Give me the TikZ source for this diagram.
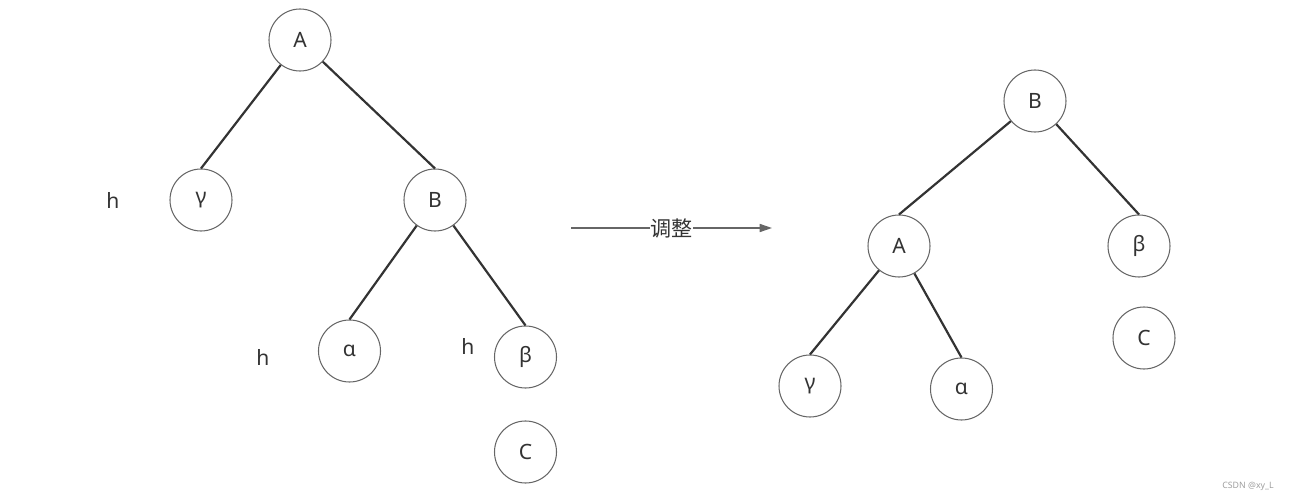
\documentclass[tikz,border=0pt]{standalone}
\usepackage{fontspec}
\setmainfont{Noto Sans}
\newfontfamily\cjk{Noto Sans CJK SC}
\usepackage{tikz}
\usetikzlibrary{arrows.meta}
\definecolor{ink}{HTML}{333333}
\definecolor{rim}{HTML}{666666}

\begin{document}
\begin{tikzpicture}[
  font=\large,
  nd/.style={draw=rim, circle, minimum size=1.24cm, inner sep=0pt, line width=0.6pt, text=ink, fill=white},
  edge/.style={draw=ink, line width=1.25pt},
  arr/.style={-{Triangle[length=7pt, width=4.6pt]}, draw=rim, line width=0.7pt},
  hlab/.style={text=ink}
]
\useasboundingbox (0,0) rectangle (25.82,-10.02);
% left tree
\node[nd] (l-A) at (6.00,-0.80) {A};
\node[nd] (l-gamma) at (4.02,-4.00) {γ};
\node[nd] (l-B) at (8.70,-4.00) {B};
\node[nd] (l-alpha) at (6.99,-7.02) {α};
\node[nd] (l-beta) at (10.51,-7.14) {β};
\node[nd] (l-C) at (10.51,-9.04) {C};
\node[hlab] (h-gamma) at (2.26,-4.00) {h};
\node[hlab] (h-alpha) at (5.26,-7.14) {h};
\node[hlab] (h-beta) at (9.36,-6.92) {h};
\draw[edge] (l-A) -- (l-gamma.north);
\draw[edge] (l-A) -- (l-B.north);
\draw[edge] (l-B) -- (l-alpha.north);
\draw[edge] (l-B) -- (l-beta.north);
% arrow
\coordinate (arr-start) at (11.42,-4.56);
\coordinate (arr-end) at (15.44,-4.56);
\draw[arr] (arr-start) -- node[fill=white, inner sep=0.5pt, text=ink, font=\large\cjk] (lbl-adjust) {调整} (arr-end);
% right tree
\node[nd] (r-B) at (20.70,-2.02) {B};
\node[nd] (r-A) at (17.98,-4.92) {A};
\node[nd] (r-beta) at (22.78,-4.92) {β};
\node[nd] (r-C) at (22.88,-6.76) {C};
\node[nd] (r-gamma) at (16.20,-7.72) {γ};
\node[nd] (r-alpha) at (19.23,-7.78) {α};
\draw[edge] (r-B) -- (r-A.north);
\draw[edge] (r-B) -- (r-beta.north);
\draw[edge] (r-A) -- (r-gamma.north);
\draw[edge] (r-A) -- (r-alpha.north);
\node[font=\tiny, text=gray!75] (mark) at (24.96,-9.72) {CSDN @xy\_L};
\end{tikzpicture}
\end{document}
